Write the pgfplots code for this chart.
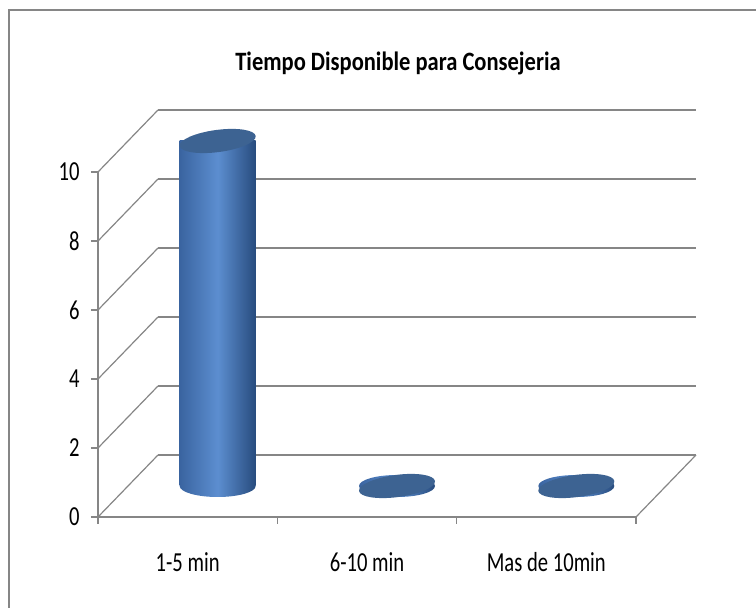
\documentclass[border=0pt]{standalone}
\usepackage{pgfplots}
\usepackage{pgfplotstable}
\pgfplotsset{compat=1.18}
\usepackage{fontspec}
\setmainfont{Carlito}[FakeStretch=0.75]
\newfontfamily\titlefont{Carlito}[FakeStretch=0.85]

\definecolor{gridgray}{RGB}{134,134,134}
\definecolor{capblue}{RGB}{61,99,146}
\definecolor{cylL}{RGB}{58,100,160}
\definecolor{cylM}{RGB}{92,142,208}
\definecolor{cylR}{RGB}{40,76,126}

\tikzset{cylshade/.style={left color=cylL, right color=cylR, middle color=cylM}}

% top cap and rounded base of a cylinder
\pgfdeclareplotmark{cap}{%
  \pgfpathellipse{\pgfpointorigin}{\pgfpoint{38pt}{5pt}}{\pgfpoint{-1.5pt}{11pt}}%
  \pgfusepathqfill}
\pgfdeclareplotmark{capshade}{%
  \path[draw=none, cylshade, rotate=7.5] (0,0) ellipse [x radius=38pt, y radius=11pt];}

\pgfplotstableread{
x   base  y
0.5 0     10
1.5 0     0
2.5 0     0
}\tiempo

\pgfplotsset{
  frame3d/.style={
    at={#1}, anchor=south west, scale only axis,
    width=538pt, height=345pt,
    xmin=0, xmax=3, ymin=0, ymax=10, clip=false,
  },
}

\begin{document}
\begin{tikzpicture}[x=1pt,y=1pt]
\path[use as bounding box] (0,0) rectangle (756,608);
\draw[gridgray, line width=1.5pt] (9,-5) -- (9,598) -- (762,598);

\node[font=\titlefont\fontsize{26.5}{30}\selectfont\bfseries] at (398,545) {Tiempo Disponible para Consejeria};

% back wall with its gridlines
\begin{axis}[frame3d={(158pt,153pt)},
  axis line style={draw=none}, tick style={draw=none},
  ytick={0,2,...,10}, yticklabels={}, xtick=\empty,
  ymajorgrids, grid style={gridgray, line width=1.2pt}]
\end{axis}

% front plane: axes, ticks, labels, depth edges
\begin{axis}[frame3d={(98pt,91pt)},
  axis x line=bottom, axis y line=left,
  axis line style={-, gridgray, line width=1.2pt},
  tick style={gridgray, line width=1.2pt},
  tick align=outside, major tick length=7pt,
  ytick={0,2,...,10},
  /pgf/number format/assume math mode=true,
  ticklabel style={font=\fontsize{27.5}{30}\selectfont, black},
  yticklabel style={xshift=-8pt},
  xtick={0,1,2,3}, xticklabels={},
  extra x ticks={0.5,1.5,2.5},
  extra x tick labels={1-5 min, 6-10 min, Mas de 10min},
  extra x tick style={major tick length=0pt,
    tick label style={anchor=base, yshift=-55pt}},
]
\pgfplotsinvokeforeach{0,2,4,6,8,10}{
  \draw[gridgray, line width=1.2pt] (axis cs:0,#1) -- ++(60pt,62pt);
}
\draw[gridgray, line width=1.2pt] (axis cs:3,0) -- ++(60pt,62pt);
\end{axis}

% mid-depth plane: rounded bases of the cylinders
\begin{axis}[frame3d={(128pt,122pt)}, hide axis]
\addplot[only marks, mark=capshade] table[x=x, y=base] {\tiempo};
\end{axis}

% mid-depth plane: cylinder bodies (zero-height ones dropped) and top caps
\begin{axis}[frame3d={(128pt,122pt)}, hide axis, unbounded coords=discard]
\addplot[ybar, bar width=76pt, bar shift=0pt, draw=none, cylshade,
  y filter/.expression={y>0 ? y : nan}]
  table[x=x, y=y] {\tiempo};
\addplot[only marks, mark=cap, color=capblue] table[x=x, y=y] {\tiempo};
\end{axis}
\end{tikzpicture}
\end{document}
